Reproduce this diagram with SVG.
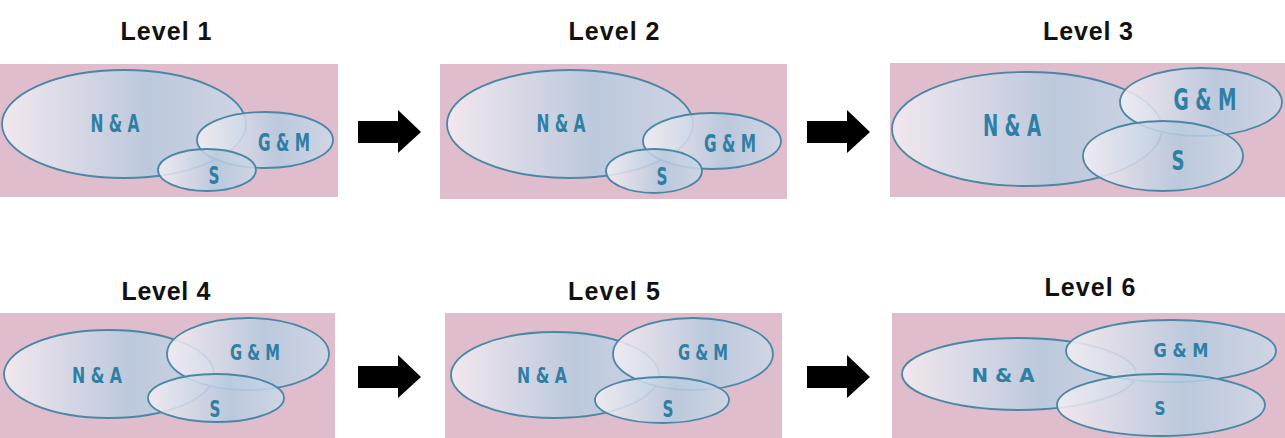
<svg xmlns="http://www.w3.org/2000/svg" width="1285" height="438" viewBox="0 0 1285 438">
<defs>
<linearGradient id="g" x1="0" y1="0" x2="1" y2="0">
<stop offset="0" stop-color="#f5eef3"/>
<stop offset="0.6" stop-color="#b6cadf"/>
<stop offset="1" stop-color="#ccd9e8"/>
</linearGradient>
<path id="arrow" d="M0,-11 H40 V-22 L63,0 L40,21 V11 H0 Z" fill="#000"/>
</defs>
<style>
.bg{fill:#dfbdcc}
.e{fill:url(#g);fill-opacity:0.86;stroke:#4a87a6;stroke-width:1.8}
.lbl{font-family:"DejaVu Sans",sans-serif;font-weight:bold;fill:#2f7fa5;text-anchor:middle}
.ttl{font-family:"Liberation Sans",Arial,sans-serif;font-weight:bold;font-size:25px;fill:#111;text-anchor:middle}
</style>
<rect width="1285" height="438" fill="#fff"/>

<g id="level1">
<text class="ttl" x="166" y="40" textLength="91">Level 1</text>
<rect class="bg" x="0" y="64" width="338" height="133"/>
<g id="l1-na"><ellipse class="e" cx="124" cy="124" rx="122" ry="54"/></g>
<g id="l1-gm"><ellipse class="e" cx="265" cy="140" rx="68" ry="28"/></g>
<g id="l1-s"><ellipse class="e" cx="207" cy="170" rx="49" ry="21"/></g>
<text class="lbl" x="115" y="132" font-size="24" textLength="49" lengthAdjust="spacingAndGlyphs">N &amp; A</text>
<text class="lbl" x="284" y="151" font-size="24" textLength="52" lengthAdjust="spacingAndGlyphs">G &amp; M</text>
<text class="lbl" x="214" y="184" font-size="24" textLength="11" lengthAdjust="spacingAndGlyphs">S</text>
</g>

<g id="level2">
<text class="ttl" x="614" y="40" textLength="91">Level 2</text>
<rect class="bg" x="440" y="64" width="347" height="135"/>
<g id="l2-na"><ellipse class="e" cx="570" cy="124" rx="123" ry="54"/></g>
<g id="l2-gm"><ellipse class="e" cx="712" cy="141" rx="69" ry="28"/></g>
<g id="l2-s"><ellipse class="e" cx="654" cy="171" rx="48" ry="22"/></g>
<text class="lbl" x="561" y="132" font-size="24" textLength="49" lengthAdjust="spacingAndGlyphs">N &amp; A</text>
<text class="lbl" x="730" y="152" font-size="24" textLength="52" lengthAdjust="spacingAndGlyphs">G &amp; M</text>
<text class="lbl" x="662" y="185" font-size="24" textLength="11" lengthAdjust="spacingAndGlyphs">S</text>
</g>

<g id="level3">
<text class="ttl" x="1088" y="40" textLength="90">Level 3</text>
<rect class="bg" x="890" y="63" width="395" height="134"/>
<g id="l3-na"><ellipse class="e" cx="1027" cy="129" rx="135" ry="57"/></g>
<g id="l3-gm"><ellipse class="e" cx="1201" cy="102" rx="81" ry="34"/></g>
<g id="l3-s"><ellipse class="e" cx="1163" cy="156" rx="80" ry="35"/></g>
<text class="lbl" x="1012" y="136" font-size="31" textLength="58" lengthAdjust="spacingAndGlyphs">N &amp; A</text>
<text class="lbl" x="1205" y="110" font-size="30" textLength="63" lengthAdjust="spacingAndGlyphs">G &amp; M</text>
<text class="lbl" x="1178" y="170" font-size="26" textLength="13" lengthAdjust="spacingAndGlyphs">S</text>
</g>

<g id="level4">
<text class="ttl" x="166" y="300" textLength="89">Level 4</text>
<rect class="bg" x="0" y="313" width="335" height="125"/>
<g id="l4-na"><ellipse class="e" cx="109" cy="374" rx="105" ry="44"/></g>
<g id="l4-gm"><ellipse class="e" cx="248" cy="354" rx="81" ry="36"/></g>
<g id="l4-s"><ellipse class="e" cx="216" cy="398" rx="68" ry="24"/></g>
<text class="lbl" x="97" y="383" font-size="22" textLength="50" lengthAdjust="spacingAndGlyphs">N &amp; A</text>
<text class="lbl" x="255" y="360" font-size="22" textLength="50" lengthAdjust="spacingAndGlyphs">G &amp; M</text>
<text class="lbl" x="215" y="417" font-size="23" textLength="11" lengthAdjust="spacingAndGlyphs">S</text>
</g>

<g id="level5">
<text class="ttl" x="614" y="300" textLength="92">Level 5</text>
<rect class="bg" x="445" y="313" width="337" height="125"/>
<g id="l5-na"><ellipse class="e" cx="555" cy="375" rx="104" ry="43"/></g>
<g id="l5-gm"><ellipse class="e" cx="693" cy="354" rx="80" ry="36"/></g>
<g id="l5-s"><ellipse class="e" cx="662" cy="400" rx="67" ry="23"/></g>
<text class="lbl" x="542" y="383" font-size="22" textLength="50" lengthAdjust="spacingAndGlyphs">N &amp; A</text>
<text class="lbl" x="703" y="360" font-size="22" textLength="50" lengthAdjust="spacingAndGlyphs">G &amp; M</text>
<text class="lbl" x="668" y="417" font-size="23" textLength="11" lengthAdjust="spacingAndGlyphs">S</text>
</g>

<g id="level6">
<text class="ttl" x="1090" y="296" textLength="91">Level 6</text>
<rect class="bg" x="892" y="313" width="393" height="125"/>
<g id="l6-na"><ellipse class="e" cx="1019" cy="374" rx="117" ry="36"/></g>
<g id="l6-gm"><ellipse class="e" cx="1171" cy="351" rx="105" ry="31"/></g>
<g id="l6-s"><ellipse class="e" cx="1161" cy="405" rx="104" ry="31"/></g>
<text class="lbl" x="1003" y="382" font-size="20" textLength="63" lengthAdjust="spacingAndGlyphs">N &amp; A</text>
<text class="lbl" x="1181" y="357" font-size="20" textLength="55" lengthAdjust="spacingAndGlyphs">G &amp; M</text>
<text class="lbl" x="1160" y="415" font-size="20" textLength="11" lengthAdjust="spacingAndGlyphs">S</text>
</g>

<g id="connectors">
<use href="#arrow" x="358" y="132"/>
<use href="#arrow" x="807" y="132"/>
<use href="#arrow" x="358" y="377"/>
<use href="#arrow" x="807" y="377"/>
</g>
</svg>
